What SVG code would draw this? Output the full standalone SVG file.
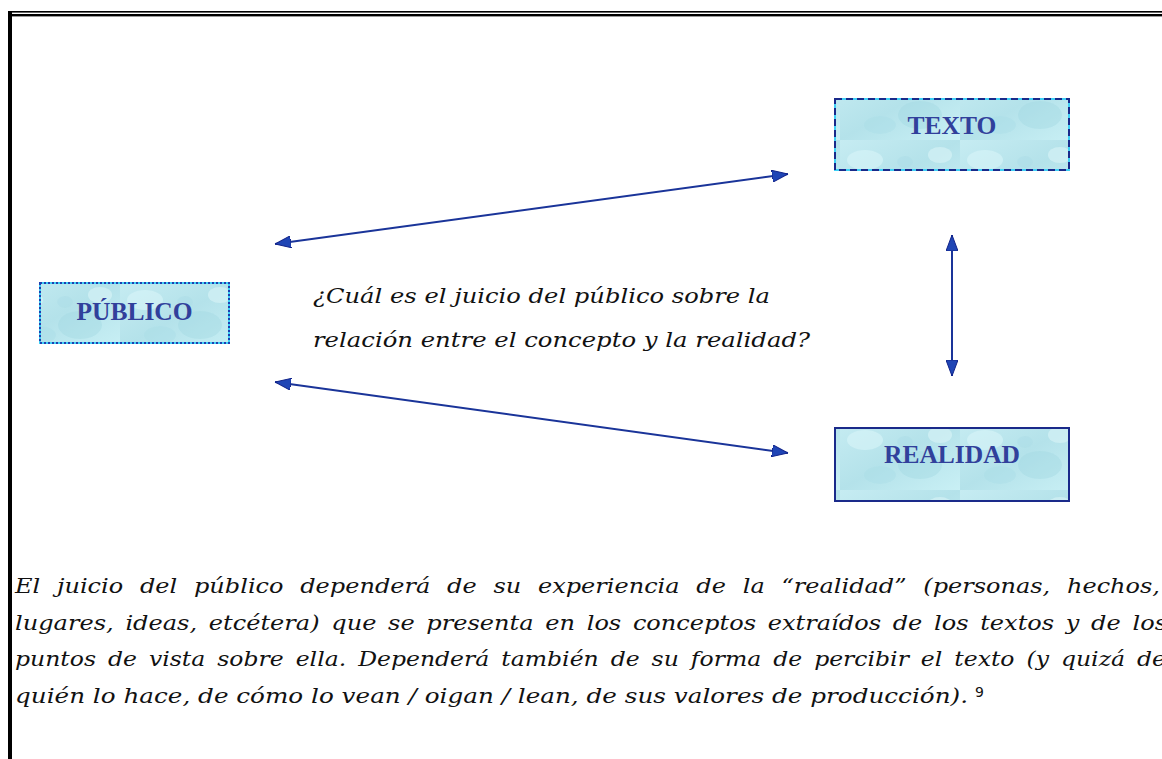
<svg xmlns="http://www.w3.org/2000/svg" width="1162" height="759" viewBox="0 0 1162 759">
<style>
.lbl{font-family:"Liberation Serif","Times New Roman",serif;font-weight:bold;font-size:25.5px;fill:#31409b;text-anchor:middle}
.it{font-family:"DejaVu Serif",serif;font-style:italic;font-size:21px;fill:#111}
.conn{stroke:#1a3499;stroke-width:2;fill:none}
.under{fill:url(#water);stroke:#3fd0f5;stroke-width:2}
.dash{fill:none;stroke:#1a2a8a;stroke-width:2;stroke-dasharray:7 4}
.dot{fill:none;stroke:#1e3fb0;stroke-width:2;stroke-dasharray:2 2}
.solid{fill:none;stroke:#1a2a8a;stroke-width:2}
</style>
<defs>
<linearGradient id="wbase" x1="0" y1="0" x2="1" y2="1">
<stop offset="0" stop-color="#c6ecf2"/>
<stop offset="0.5" stop-color="#b4e2ea"/>
<stop offset="1" stop-color="#c9f0f5"/>
</linearGradient>
<pattern id="water" patternUnits="userSpaceOnUse" width="120" height="70">
<rect width="120" height="70" fill="url(#wbase)"/>
<ellipse cx="25" cy="20" rx="18" ry="10" fill="#d8f5f8" opacity="0.6"/>
<ellipse cx="80" cy="45" rx="22" ry="14" fill="#9fd6e2" opacity="0.4"/>
<ellipse cx="100" cy="15" rx="12" ry="8" fill="#e2f8fa" opacity="0.5"/>
<ellipse cx="40" cy="55" rx="16" ry="9" fill="#a8dbe5" opacity="0.4"/>
<ellipse cx="65" cy="22" rx="8" ry="6" fill="#aadde7" opacity="0.45"/>
</pattern>
<marker id="ah" viewBox="0 0 16 12" refX="16" refY="6" markerWidth="16" markerHeight="12" markerUnits="userSpaceOnUse" orient="auto-start-reverse">
<path d="M0,0 L16,6 L0,12 z" fill="#1f45b5" stroke="#12248a" stroke-width="1"/>
</marker>
</defs>
<rect width="1162" height="759" fill="#ffffff"/>
<g id="frame" fill="#000">
<rect x="8" y="11" width="1154" height="1.6"/>
<rect x="10" y="14" width="1152" height="2.4"/>
<rect x="8" y="11" width="4" height="748"/>
</g>
<g id="connectors">
<line class="conn" x1="275" y1="244" x2="788" y2="174" marker-start="url(#ah)" marker-end="url(#ah)"/>
<line class="conn" x1="275" y1="382" x2="788" y2="453" marker-start="url(#ah)" marker-end="url(#ah)"/>
<line class="conn" x1="952" y1="235" x2="952" y2="376" marker-start="url(#ah)" marker-end="url(#ah)"/>
</g>
<g id="texto">
<rect class="under" x="835" y="99" width="234" height="71"/>
<rect class="dash" x="835" y="99" width="234" height="71"/>
<text class="lbl" x="952" y="134">TEXTO</text>
</g>
<g id="publico">
<rect class="under" x="40" y="283" width="189" height="60"/>
<rect class="dot" x="40" y="283" width="189" height="60"/>
<text class="lbl" x="134.5" y="320">PÚBLICO</text>
</g>
<g id="realidad">
<rect class="under" x="835" y="428" width="234" height="73"/>
<rect class="solid" x="835" y="428" width="234" height="73"/>
<text class="lbl" x="952" y="463">REALIDAD</text>
</g>
<g id="question">
<text class="it" x="313" y="303" textLength="457" lengthAdjust="spacingAndGlyphs">¿Cuál es el juicio del público sobre la</text>
<text class="it" x="313" y="347" textLength="497" lengthAdjust="spacingAndGlyphs">relación entre el concepto y la realidad?</text>
</g>
<g id="paragraph">
<text class="it" x="15" y="593" word-spacing="8" textLength="1145" lengthAdjust="spacingAndGlyphs">El juicio del público dependerá de su experiencia de la “realidad” (personas, hechos,</text>
<text class="it" x="15" y="630" word-spacing="3.5" textLength="1152" lengthAdjust="spacingAndGlyphs">lugares, ideas, etcétera) que se presenta en los conceptos extraídos de los textos y de los</text>
<text class="it" x="15" y="666" word-spacing="4" textLength="1151" lengthAdjust="spacingAndGlyphs">puntos de vista sobre ella. Dependerá también de su forma de percibir el texto (y quizá de</text>
<text class="it" x="15" y="703" textLength="953" lengthAdjust="spacingAndGlyphs">quién lo hace, de cómo lo vean / oigan / lean, de sus valores de producción).</text>
<text x="975" y="697" font-family="'DejaVu Sans',sans-serif" font-size="14" fill="#111">9</text>
</g>
</svg>
